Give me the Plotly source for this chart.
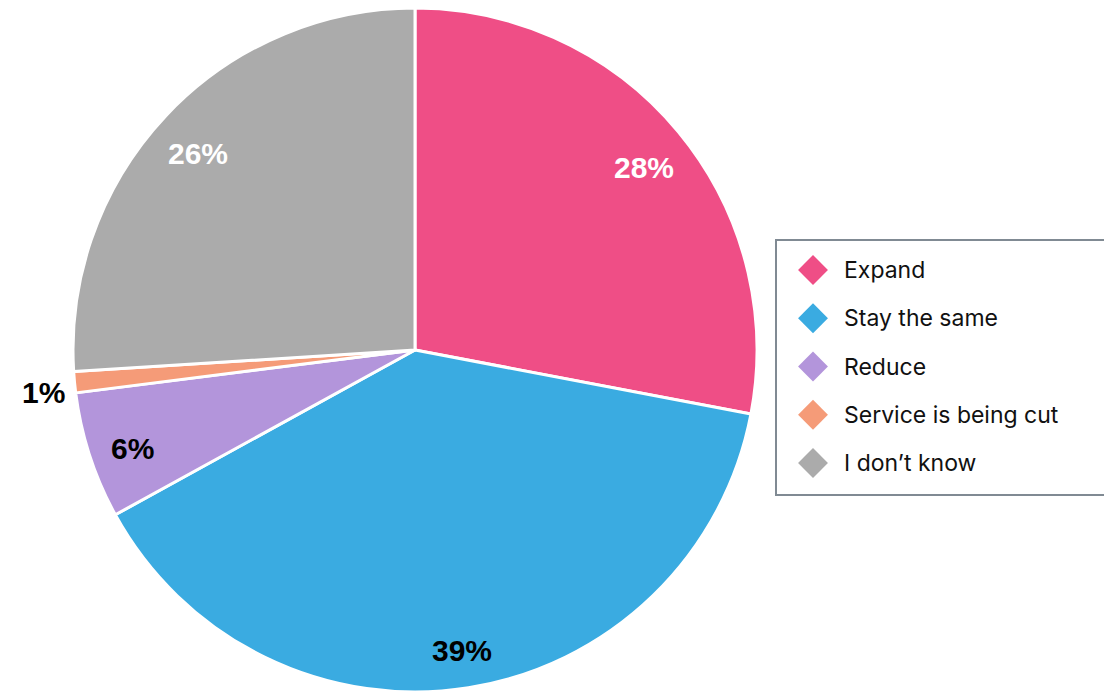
import math
import plotly.graph_objects as go

# Survey answers and their shares (%)
categories = ["Expand", "Stay the same", "Reduce", "Service is being cut", "I don\u2019t know"]
values = [28, 39, 6, 1, 26]
colors = ["#EF4E86", "#3AABE1", "#B395DB", "#F59B78", "#ABABAB"]
label_colors = ["white", "black", "black", "black", "white"]
label_outside = [False, False, False, True, False]

W, H = 1104, 693
cx, cy, R = 415, 350, 342  # pie centre and radius in pixels

fig = go.Figure()

fig.add_trace(go.Pie(
    labels=categories,
    values=values,
    sort=False,
    direction="clockwise",
    rotation=0,
    marker=dict(colors=colors, line=dict(color="white", width=3)),
    textinfo="none",
    hoverinfo="label+percent",
    showlegend=False,
    domain=dict(x=[(cx - R) / W, (cx + R) / W], y=[1 - (cy + R) / H, 1 - (cy - R) / H]),
))

# Percentage labels placed at each slice's mid angle
total = sum(values)
cum = 0
for v, c, outside in zip(values, label_colors, label_outside):
    mid = (cum + v / 2) / total * 2 * math.pi
    cum += v
    r = R * (1.09 if outside else 0.87)
    px = cx + r * math.sin(mid)
    py = cy - r * math.cos(mid)
    fig.add_annotation(
        x=px / W, y=1 - py / H, xref="paper", yref="paper",
        text=f"<b>{round(v / total * 100)}%</b>", showarrow=False,
        font=dict(family="Liberation Sans, Arial, sans-serif", size=30, color=c),
        xanchor="center", yanchor="middle", yshift=-7,
    )

# Legend drawn as a small scatter panel with diamond keys
lx0, lx1, ly0, ly1 = 776, 1104, 240, 495
rows = list(range(len(categories)))
fig.add_trace(go.Scatter(
    x=[37] * len(categories), y=rows, mode="markers",
    marker=dict(symbol="diamond", size=23, color=colors, line=dict(width=0)),
    xaxis="x2", yaxis="y2", showlegend=False, hoverinfo="skip",
))
for i, name in zip(rows, categories):
    fig.add_annotation(
        x=66, y=i, xref="x2", yref="y2", text=name, showarrow=False,
        xanchor="left", yanchor="middle",
        font=dict(family="Inter, Noto Sans, sans-serif", size=23, color="#111111"),
    )

fig.add_shape(
    type="rect", xref="paper", yref="paper",
    x0=lx0 / W, x1=1.02, y0=1 - ly1 / H, y1=1 - ly0 / H,
    line=dict(color="#808A93", width=2), fillcolor="rgba(0,0,0,0)",
)

fig.update_layout(
    width=W, height=H,
    margin=dict(l=0, r=0, t=0, b=0),
    paper_bgcolor="white", plot_bgcolor="rgba(0,0,0,0)",
    xaxis2=dict(domain=[lx0 / W, 1], range=[0, lx1 - lx0], visible=False, fixedrange=True),
    yaxis2=dict(domain=[1 - ly1 / H, 1 - ly0 / H], range=[4.663, -0.622], visible=False,
                fixedrange=True, anchor="x2"),
)

fig.write_html("out.html")
